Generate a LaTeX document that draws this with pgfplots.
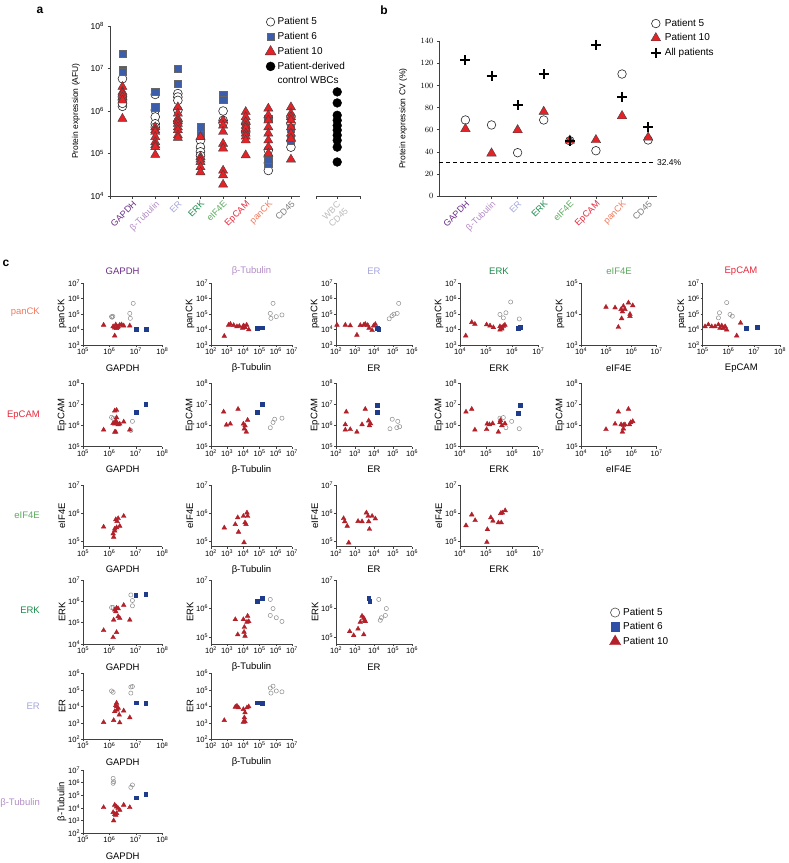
\documentclass[border=0pt]{standalone}
\usepackage{fontspec}
\setmainfont{Liberation Sans}
\usepackage{pgfplots}
\usepackage{pgfplotstable}
\pgfplotsset{compat=1.18}

\definecolor{p6}{HTML}{3C5DAA}
\definecolor{p10}{HTML}{E52228}
\definecolor{c6}{HTML}{1F3C8C}
\definecolor{c6l}{HTML}{3050A8}
\definecolor{c10}{HTML}{B2202A}
\definecolor{cgray}{HTML}{8C8C8C}
\definecolor{kGAPDH}{HTML}{6B2C87}
\definecolor{kTub}{HTML}{B38CC5}
\definecolor{kER}{HTML}{A3A6DA}
\definecolor{kERK}{HTML}{1C8A4B}
\definecolor{kEIF}{HTML}{5BAA5E}
\definecolor{kEp}{HTML}{E5283B}
\definecolor{kpan}{HTML}{F27A5E}
\definecolor{kCD}{HTML}{7D7D7D}
\definecolor{kWBC}{HTML}{BBBBBB}

\newcommand{\tp}[1]{10\textsuperscript{#1}}

% ---------------- panel a (x = category index, y = log10 of AFU) ----------------
\pgfplotstableread{
x y g
0.55 6.76 c
0.55 6.33 c
0.55 6.25 c
0.55 6.11 c
0.55 6.18 c
2 6.39 c
2 6.02 c
2 5.86 c
2 5.70 c
2 5.62 c
3 6.41 c
3 6.33 c
3 6.25 c
3 6.02 c
3 5.75 c
4 5.31 c
4 5.15 c
4 5.04 c
4 4.95 c
5 6.00 c
5 5.78 c
5 5.72 c
6 5.70 c
6 5.50 c
7 5.08 c
7 4.92 c
7 4.78 c
7 4.60 c
8 5.86 c
8 5.70 c
8 5.30 c
8 5.15 c
0.55 7.35 s
0.55 6.97 s
0.55 6.93 s
2 6.46 s
2 6.09 s
3 7.00 s
3 6.64 s
4 5.62 s
4 5.43 s
5 6.37 s
5 6.27 s
6 5.60 s
7 5.82 s
7 4.76 s
7 4.85 s
8 5.31 s
8 5.60 s
0.55 6.57 t
0.55 6.45 t
0.55 6.41 t
0.55 6.33 t
0.55 6.25 t
0.55 5.82 t
2 5.62 t
2 5.55 t
2 5.51 t
2 5.39 t
2 5.27 t
2 5.20 t
2 5.15 t
2 4.97 t
3 6.09 t
3 5.94 t
3 5.82 t
3 5.76 t
3 5.70 t
3 5.62 t
3 5.55 t
3 5.43 t
3 5.37 t
4 5.39 t
4 4.92 t
4 4.86 t
4 4.80 t
4 4.68 t
4 4.56 t
5 5.78 t
5 5.66 t
5 5.51 t
5 5.23 t
5 5.12 t
5 4.60 t
5 4.49 t
5 4.27 t
6 5.98 t
6 5.86 t
6 5.74 t
6 5.65 t
6 5.59 t
6 5.47 t
6 5.40 t
6 5.31 t
6 4.96 t
7 6.06 t
7 5.90 t
7 5.78 t
7 5.62 t
7 5.47 t
7 5.31 t
7 5.15 t
7 5.00 t
8 6.09 t
8 5.94 t
8 5.86 t
8 5.78 t
8 5.62 t
8 5.47 t
8 5.35 t
8 4.86 t
}\pA
\pgfplotstableread{
x y g
10.2 6.45 w
10.2 6.19 w
10.2 5.90 w
10.2 5.78 w
10.2 5.66 w
10.2 5.55 w
10.2 5.43 w
10.2 5.31 w
10.2 5.15 w
10.2 4.80 w
}\pAw

% ---------------- panel c (log10 values) ----------------
\pgfplotstableread{
x y g
6.08 4.84 c
6.13 4.86 c
6.10 4.80 c
6.77 5.05 c
6.79 4.73 c
6.90 5.70 c
7.00 4.00 s
7.38 4.05 s
5.78 4.30 t
6.20 3.60 t
6.14 4.20 t
6.24 4.32 t
6.33 4.20 t
6.39 4.30 t
6.27 4.08 t
6.46 4.32 t
6.54 4.25 t
6.77 4.25 t
6.20 4.12 t
6.30 4.15 t
}\rAcA
\pgfplotstableread{
x y g
5.83 5.70 c
5.66 5.05 c
5.70 4.73 c
6.03 4.84 c
6.38 4.95 c
4.84 4.08 s
5.15 4.12 s
2.82 3.58 t
3.09 4.30 t
3.20 4.36 t
3.40 4.28 t
3.60 4.20 t
3.75 4.22 t
4.00 4.25 t
4.10 4.14 t
4.20 4.30 t
4.33 4.00 t
3.95 4.10 t
4.05 4.20 t
}\rAcB
\pgfplotstableread{
x y g
4.80 4.70 c
4.95 4.90 c
5.05 5.00 c
5.22 5.05 c
5.30 5.70 c
4.16 4.08 s
4.25 4.02 s
2.05 4.30 t
2.49 4.30 t
2.75 4.26 t
3.10 3.65 t
3.28 4.28 t
3.46 4.30 t
3.54 4.36 t
3.67 4.28 t
3.74 4.10 t
3.90 3.95 t
3.98 4.25 t
4.07 4.35 t
}\rAcC
\pgfplotstableread{
x y g
5.53 4.98 c
5.66 4.76 c
5.76 5.09 c
5.94 5.79 c
6.27 4.69 c
6.23 4.10 s
6.32 4.14 s
4.22 3.60 t
4.45 4.47 t
4.57 4.36 t
5.02 4.32 t
5.15 4.25 t
5.28 4.14 t
5.53 4.20 t
5.60 4.05 t
5.66 4.22 t
5.72 4.30 t
5.53 3.98 t
5.60 4.12 t
}\rAcD
\pgfplotstableread{
x y g
4.99 4.23 t
5.35 4.21 t
5.48 3.58 t
5.59 4.16 t
5.61 3.86 t
5.68 4.26 t
5.74 4.16 t
5.88 4.37 t
5.94 4.00 t
5.94 3.93 t
6.05 4.28 t
5.64 4.08 t
}\rAcE
\pgfplotstableread{
x y g
5.61 4.76 c
5.65 5.09 c
5.93 5.75 c
6.06 4.98 c
6.15 4.87 c
6.68 4.10 s
7.10 4.14 s
5.09 4.20 t
5.22 4.32 t
5.35 4.20 t
5.48 4.20 t
5.61 4.32 t
5.67 4.10 t
5.87 4.20 t
5.93 3.99 t
6.32 3.60 t
6.47 4.43 t
5.74 4.25 t
5.80 4.08 t
}\rAcF
\pgfplotstableread{
x y g
6.08 6.39 c
6.14 6.34 c
6.81 5.77 c
6.87 6.20 c
7.00 6.65 s
7.37 7.00 s
5.78 5.80 t
6.20 5.69 t
6.20 6.08 t
6.27 6.15 t
6.33 6.05 t
6.14 6.11 t
6.24 6.22 t
6.27 6.38 t
6.39 6.08 t
6.54 6.18 t
6.77 5.80 t
6.24 5.70 t
6.27 6.73 t
6.20 6.70 t
}\rBcA
\pgfplotstableread{
x y g
5.66 5.90 c
5.83 6.15 c
5.93 6.30 c
6.38 6.35 c
4.84 6.65 s
5.15 7.00 s
2.78 6.65 t
3.67 6.78 t
2.95 6.03 t
3.19 6.08 t
4.00 6.08 t
4.06 5.85 t
4.18 5.70 t
4.26 6.26 t
4.10 6.00 t
}\rBcB
\pgfplotstableread{
x y g
4.84 5.85 c
4.96 6.30 c
5.20 5.90 c
5.25 6.20 c
5.35 5.95 c
4.16 6.95 s
4.16 6.65 s
2.54 6.65 t
3.54 6.78 t
2.49 6.05 t
2.49 5.80 t
2.75 5.82 t
3.10 5.70 t
3.37 6.05 t
3.72 6.23 t
3.81 6.10 t
3.76 6.00 t
}\rBcC
\pgfplotstableread{
x y g
5.53 6.35 c
5.66 6.38 c
5.76 5.90 c
5.98 6.20 c
6.27 5.85 c
6.23 6.60 s
6.30 6.95 s
4.23 6.65 t
4.45 6.78 t
4.57 5.80 t
5.04 6.08 t
5.13 6.05 t
5.25 6.10 t
5.02 5.82 t
5.47 5.70 t
5.53 6.15 t
5.60 6.00 t
5.72 6.10 t
5.55 6.25 t
}\rBcD
\pgfplotstableread{
x y g
5.48 6.65 t
5.88 6.78 t
4.99 5.82 t
5.35 6.08 t
5.59 6.05 t
5.64 5.70 t
5.68 5.85 t
5.74 6.05 t
5.92 6.05 t
5.97 6.15 t
6.05 6.20 t
5.68 6.02 t
}\rBcE
\pgfplotstableread{
x y g
5.78 5.52 t
6.14 5.28 t
6.16 5.16 t
6.20 5.45 t
6.24 5.78 t
6.29 5.72 t
6.33 5.82 t
6.27 5.50 t
6.39 5.55 t
6.54 5.90 t
6.20 5.38 t
}\rCcA
\pgfplotstableread{
x y g
2.82 5.49 t
3.50 5.61 t
3.65 5.85 t
3.70 5.34 t
4.00 5.90 t
4.04 4.97 t
4.10 5.67 t
4.22 6.02 t
4.26 5.90 t
4.16 5.61 t
}\rCcB
\pgfplotstableread{
x y g
2.40 5.82 t
2.46 5.71 t
2.59 5.55 t
2.67 4.96 t
3.16 5.72 t
3.37 5.71 t
3.60 6.02 t
3.69 5.90 t
3.72 5.71 t
3.76 5.44 t
3.90 5.90 t
4.07 5.81 t
}\rCcC
\pgfplotstableread{
x y g
4.23 5.57 t
4.45 5.95 t
4.58 5.75 t
5.05 5.43 t
5.03 4.98 t
5.18 5.85 t
5.26 5.73 t
5.47 5.67 t
5.58 5.67 t
5.56 6.00 t
5.73 6.10 t
5.62 6.02 t
}\rCcD
\pgfplotstableread{
x y g
6.08 5.71 c
6.14 5.71 c
6.81 6.30 c
6.87 6.04 c
6.87 5.79 c
6.99 6.27 s
7.37 6.35 s
5.78 4.64 t
6.14 4.31 t
6.27 4.55 t
6.16 5.13 t
6.20 5.60 t
6.27 5.69 t
6.33 5.66 t
6.33 5.29 t
6.39 5.21 t
6.54 5.82 t
6.77 5.13 t
6.24 5.52 t
}\rDcA
\pgfplotstableread{
x y g
5.66 6.32 c
5.83 6.00 c
5.66 5.76 c
6.03 5.68 c
6.38 5.55 c
4.84 6.27 s
5.15 6.35 s
3.50 5.62 t
3.65 5.09 t
4.00 5.62 t
4.04 5.18 t
4.06 5.35 t
4.10 5.04 t
4.26 5.74 t
4.33 5.55 t
4.22 5.53 t
}\rDcB
\pgfplotstableread{
x y g
4.25 6.32 c
4.33 5.59 c
4.39 5.68 c
4.60 5.76 c
4.65 6.00 c
3.72 6.35 s
3.77 6.27 s
2.72 5.20 t
2.93 5.06 t
3.16 5.29 t
3.28 5.53 t
3.37 5.74 t
3.46 5.67 t
3.51 5.59 t
3.54 5.55 t
3.46 5.09 t
}\rDcC
\pgfplotstableread{
x y g
6.08 4.93 c
6.14 4.85 c
6.81 5.17 c
6.87 5.20 c
6.81 4.80 c
7.00 4.22 s
7.37 4.18 s
5.78 3.03 t
6.16 3.15 t
6.27 3.98 t
6.33 3.90 t
6.24 4.06 t
6.29 3.78 t
6.20 3.69 t
6.37 3.48 t
6.39 3.01 t
6.54 3.73 t
6.77 3.32 t
6.27 4.20 t
}\rEcA
\pgfplotstableread{
x y g
5.66 5.11 c
5.83 5.22 c
5.70 4.80 c
6.03 4.93 c
6.38 4.88 c
4.84 4.22 s
5.15 4.18 s
2.82 3.15 t
3.50 3.96 t
3.60 4.02 t
3.70 3.92 t
4.00 3.82 t
4.10 3.62 t
4.06 3.32 t
4.00 3.05 t
4.10 3.08 t
4.22 3.92 t
4.33 3.98 t
}\rEcB
\pgfplotstableread{
x y g
6.14 6.34 c
6.16 6.08 c
6.14 5.95 c
6.81 5.63 c
6.87 5.82 c
7.00 4.82 s
7.37 5.08 s
5.78 4.05 t
6.14 3.66 t
6.20 4.24 t
6.27 4.10 t
6.33 3.97 t
6.16 3.00 t
6.20 3.50 t
6.27 3.58 t
6.39 3.84 t
6.54 4.24 t
6.77 4.05 t
6.24 3.45 t
}\rFcA

\pgfplotsset{
  every axis/.append style={
    scale only axis, anchor=south west, clip=false,
    axis x line*=bottom, axis y line*=left,
    axis line style={-, black!75, line width=0.5pt},
    tick style={black!75, line width=0.5pt},
    tick align=outside, major tick length=2pt,
    xminorticks=false, yminorticks=false,
  },
  mylegimg/.style={legend image code/.code={\path[draw=none, fill=none] (-#1,-5pt) rectangle (#1,5pt); \draw[##1] plot coordinates {(0pt,0pt)};}},
  apts/.style={scatter, only marks, scatter src=explicit symbolic,
    scatter/classes={
      c={mark=*, draw=black!85, fill=white, mark size=4.4pt, line width=0.6pt},
      s={mark=square*, draw=black!60, fill=p6, mark size=3.7pt, line width=0.4pt},
      t={mark=triangle*, draw=black!75, fill=p10, mark size=5.3pt, line width=0.4pt},
      w={mark=*, draw=black, fill=black, mark size=4.4pt}}},
  cpts/.style={scatter, only marks, scatter src=explicit symbolic,
    scatter/classes={
      c={mark=o, draw=cgray, mark size=2.1pt, line width=0.5pt},
      s={mark=square*, draw=c6, fill=c6, mark size=1.9pt},
      t={mark=triangle*, draw=c10, fill=c10, mark size=2.7pt}}},
  smstyle/.style={
    tick label style={font=\fontsize{7.6}{8}\selectfont, inner sep=0.8pt},
    every axis x label/.style={at={(axis description cs:0.5,0)}, yshift=-23pt, anchor=center, font=\fontsize{9.5}{10}\selectfont},
    every axis y label/.style={at={(axis description cs:0,0.5)}, xshift=-21pt, rotate=90, anchor=center, font=\fontsize{9.5}{10}\selectfont}},
  xG/.style={xlabel={GAPDH}, xmin=1e5, xmax=1e8, xtick={1e5,1e6,1e7,1e8}, xticklabels={\tp{5},\tp{6},\tp{7},\tp{8}}},
  xT/.style={xlabel={β-Tubulin}, xmin=1e2, xmax=1e7, xtick={1e2,1e3,1e4,1e5,1e6,1e7}, xticklabels={\tp{2},\tp{3},\tp{4},\tp{5},\tp{6},\tp{7}}},
  xR/.style={xlabel={ER}, xmin=1e2, xmax=1e6, xtick={1e2,1e3,1e4,1e5,1e6}, xticklabels={\tp{2},\tp{3},\tp{4},\tp{5},\tp{6}}},
  xK/.style={xlabel={ERK}, xmin=1e4, xmax=1e7, xtick={1e4,1e5,1e6,1e7}, xticklabels={\tp{4},\tp{5},\tp{6},\tp{7}}},
  xF/.style={xlabel={eIF4E}, xmin=1e4, xmax=1e7, xtick={1e4,1e5,1e6,1e7}, xticklabels={\tp{4},\tp{5},\tp{6},\tp{7}}},
  xE/.style={xlabel={EpCAM}, xmin=1e5, xmax=1e8, xtick={1e5,1e6,1e7,1e8}, xticklabels={\tp{5},\tp{6},\tp{7},\tp{8}}},
  yP/.style={ylabel={panCK}, ymin=1e3, ymax=1e7, ytick={1e3,1e4,1e5,1e6,1e7}, yticklabels={\tp{3},\tp{4},\tp{5},\tp{6},\tp{7}}},
  yPs/.style={ylabel={panCK}, ymin=1e3, ymax=1e5, ytick={1e3,1e4,1e5}, yticklabels={\tp{3},\tp{4},\tp{5}}},
  yE/.style={ylabel={EpCAM}, ymin=1e5, ymax=1e8, ytick={1e5,1e6,1e7,1e8}, yticklabels={\tp{5},\tp{6},\tp{7},\tp{8}}},
  yF/.style={ylabel={eIF4E}, ymin=6.6e4, ymax=1e7, ytick={1e5,1e6,1e7}, yticklabels={\tp{5},\tp{6},\tp{7}}},
  yK/.style={ylabel={ERK}, ymin=1e4, ymax=1e7, ytick={1e4,1e5,1e6,1e7}, yticklabels={\tp{4},\tp{5},\tp{6},\tp{7}}},
  yKs/.style={ylabel={ERK}, ymin=5.75e4, ymax=1e7, ytick={1e5,1e6,1e7}, yticklabels={\tp{5},\tp{6},\tp{7}}},
  yR/.style={ylabel={ER}, ymin=1e2, ymax=1e6, ytick={1e2,1e3,1e4,1e5,1e6}, yticklabels={\tp{2},\tp{3},\tp{4},\tp{5},\tp{6}}},
  yT/.style={ylabel={β-Tubulin}, ymin=1e2, ymax=1e7, ytick={1e2,1e3,1e4,1e5,1e6,1e7}, yticklabels={\tp{2},\tp{3},\tp{4},\tp{5},\tp{6},\tp{7}}},
  table/lgx/.style={x expr=10^\thisrow{x}, y expr=10^\thisrow{y}, meta=g},
  table/lgy/.style={x=x, y expr=10^\thisrow{y}, meta=g},
}

\begin{document}
\begin{tikzpicture}
\useasboundingbox (0pt,0pt) rectangle (788pt,-863pt);

% ================= panel a =================
\begin{axis}[
  at={(110pt,-196pt)}, width=190pt, height=170pt,
  ymode=log, ymin=1e4, ymax=1e8, xmin=0, xmax=8.4,
  ytick={1e4,1e5,1e6,1e7,1e8}, yticklabels={\tp{4},\tp{5},\tp{6},\tp{7},\tp{8}},
  yticklabel style={font=\fontsize{8.5}{9}\selectfont},
  xtick={0,1,2,3,4,5,6,7,8},
  xticklabels={,\textcolor{kGAPDH}{GAPDH},\textcolor{kTub}{β-Tubulin},\textcolor{kER}{ER},\textcolor{kERK}{ERK},\textcolor{kEIF}{eIF4E},\textcolor{kEp}{EpCAM},\textcolor{kpan}{panCK},\textcolor{kCD}{CD45}},
  xticklabel style={rotate=45, anchor=north east, font=\fontsize{9}{10}\selectfont, inner sep=1pt},
  major tick length=2.5pt,
  ylabel={Protein expression (AFU)},
  every axis y label/.style={at={(axis description cs:0,0.5)}, xshift=-34pt, rotate=90, anchor=center, font=\fontsize{8.5}{10}\selectfont},
  mylegimg=6pt,
  legend cell align=left,
  legend style={draw=none, fill=none, at={(axis description cs:0.8126,1.0594)}, anchor=north west,
    font=\fontsize{10}{11}\selectfont, inner sep=0pt, row sep=3pt,
    nodes={inner sep=1pt, text height=7.5pt, text depth=2.2pt}},
]
\addplot[apts, forget plot] table[lgy] {\pA};
\addlegendimage{only marks, mark=*, draw=black!85, fill=white, mark size=4.2pt, line width=0.6pt}
\addlegendentry{Patient 5}
\addlegendimage{only marks, mark=square*, draw=black!60, fill=p6, mark size=3.7pt, line width=0.4pt}
\addlegendentry{Patient 6}
\addlegendimage{only marks, mark=triangle*, draw=black!75, fill=p10, mark size=6.2pt, line width=0.4pt}
\addlegendentry{Patient 10}
\addlegendimage{only marks, mark=*, draw=black, fill=black, mark size=4.5pt}
\addlegendentry{Patient-derived}
\addlegendimage{empty legend}
\addlegendentry{control WBCs}
\end{axis}

\begin{axis}[
  at={(316.7pt,-196pt)}, width=43.3pt, height=170pt,
  ymode=log, ymin=1e4, ymax=1e8, xmin=9.3, xmax=11.2,
  axis y line=none,
  xtick={9.3,10.2,11.2}, xticklabels={,{WBC\\CD45},},
  xticklabel style={rotate=45, anchor=north east, align=center, text=kWBC, font=\fontsize{9}{10}\selectfont, inner sep=1pt},
  major tick length=2.5pt,
]
\addplot[apts] table[lgy] {\pAw};
\end{axis}

% ================= panel b =================
\begin{axis}[
  at={(439.3pt,-196pt)}, width=217.7pt, height=154.7pt,
  ymin=0, ymax=140, xmin=0, xmax=8.34,
  ytick={0,20,40,60,80,100,120,140},
  yticklabel style={font=\fontsize{8.5}{9}\selectfont},
  xtick={1,2,3,4,5,6,7,8},
  xticklabels={\textcolor{kGAPDH}{GAPDH},\textcolor{kTub}{β-Tubulin},\textcolor{kER}{ER},\textcolor{kERK}{ERK},\textcolor{kEIF}{eIF4E},\textcolor{kEp}{EpCAM},\textcolor{kpan}{panCK},\textcolor{kCD}{CD45}},
  xticklabel style={rotate=45, anchor=north east, font=\fontsize{9}{10}\selectfont, inner sep=1pt},
  major tick length=2.5pt,
  ylabel={Protein expression CV (\%)},
  every axis y label/.style={at={(axis description cs:0,0.5)}, xshift=-36pt, rotate=90, anchor=center, font=\fontsize{8.5}{10}\selectfont},
  mylegimg=8pt,
  legend cell align=left,
  legend style={draw=none, fill=none, at={(axis description cs:0.957,1.154)}, anchor=north west,
    font=\fontsize{10}{11}\selectfont, inner sep=0pt, row sep=2.8pt,
    nodes={inner sep=1pt, text height=7.5pt, text depth=2.2pt}},
]
\addplot[black, dashed, line width=0.8pt, dash pattern=on 4pt off 3pt, forget plot] coordinates {(0,30.2) (8.2,30.2)};
\node[anchor=west, font=\fontsize{8.5}{10}\selectfont, inner sep=1pt] at (axis cs:8.3,30.2) {32.4\%};
\addplot[only marks, mark=*, draw=black!85, fill=white, mark size=4.3pt, line width=0.6pt] coordinates {
(1,68.8) (2,64.3) (3,39.2) (4,68.8) (5,50.0) (6,41.0) (7,110.4) (8,50.7)};
\addlegendentry{Patient 5}
\addplot[only marks, mark=triangle*, draw=black!75, fill=p10, mark size=5.5pt, line width=0.4pt] coordinates {
(1,60.7) (2,38.6) (3,59.7) (4,76.3) (5,50.3) (6,50.7) (7,72.4) (8,53.0)};
\addlegendentry{Patient 10}
\addplot[only marks, mark=+, black, mark size=5pt, line width=2pt] coordinates {
(1,123) (2,109) (3,82) (4,110) (5,50) (6,137) (7,90) (8,62)};
\addlegendentry{All patients}
\end{axis}

% ================= panel c =================
% row 1: panCK
\begin{axis}[xmode=log, ymode=log, at={(83pt,-345pt)}, width=79.3pt, height=61.7pt, smstyle, xG, yP]
\addplot[cpts] table[lgx] {\rAcA};
\end{axis}
\begin{axis}[xmode=log, ymode=log, at={(211pt,-345pt)}, width=81pt, height=61.7pt, smstyle, xT, yP]
\addplot[cpts] table[lgx] {\rAcB};
\end{axis}
\begin{axis}[xmode=log, ymode=log, at={(336pt,-345pt)}, width=76pt, height=61.7pt, smstyle, xR, yP]
\addplot[cpts] table[lgx] {\rAcC};
\end{axis}
\begin{axis}[xmode=log, ymode=log, at={(460pt,-345pt)}, width=78.3pt, height=61.7pt, smstyle, xK, yP]
\addplot[cpts] table[lgx] {\rAcD};
\end{axis}
\begin{axis}[xmode=log, ymode=log, at={(581pt,-345pt)}, width=75.7pt, height=61.7pt, smstyle, xF, yPs]
\addplot[cpts] table[lgx] {\rAcE};
\end{axis}
\begin{axis}[xmode=log, ymode=log, at={(702.7pt,-345pt)}, width=77.3pt, height=61.7pt, smstyle, xE, yP]
\addplot[cpts] table[lgx] {\rAcF};
\end{axis}
% row 2: EpCAM
\begin{axis}[xmode=log, ymode=log, at={(83pt,-446.7pt)}, width=79.3pt, height=63.4pt, smstyle, xG, yE]
\addplot[cpts] table[lgx] {\rBcA};
\end{axis}
\begin{axis}[xmode=log, ymode=log, at={(211pt,-446.7pt)}, width=81pt, height=63.4pt, smstyle, xT, yE]
\addplot[cpts] table[lgx] {\rBcB};
\end{axis}
\begin{axis}[xmode=log, ymode=log, at={(336pt,-446.7pt)}, width=76pt, height=63.4pt, smstyle, xR, yE]
\addplot[cpts] table[lgx] {\rBcC};
\end{axis}
\begin{axis}[xmode=log, ymode=log, at={(460pt,-446.7pt)}, width=78.3pt, height=63.4pt, smstyle, xK, yE]
\addplot[cpts] table[lgx] {\rBcD};
\end{axis}
\begin{axis}[xmode=log, ymode=log, at={(581pt,-446.7pt)}, width=75.7pt, height=63.4pt, smstyle, xF, yE]
\addplot[cpts] table[lgx] {\rBcE};
\end{axis}
% row 3: eIF4E
\begin{axis}[xmode=log, ymode=log, at={(83pt,-546.7pt)}, width=79.3pt, height=61.7pt, smstyle, xG, yF]
\addplot[cpts] table[lgx] {\rCcA};
\end{axis}
\begin{axis}[xmode=log, ymode=log, at={(211pt,-546.7pt)}, width=81pt, height=61.7pt, smstyle, xT, yF]
\addplot[cpts] table[lgx] {\rCcB};
\end{axis}
\begin{axis}[xmode=log, ymode=log, at={(336pt,-546.7pt)}, width=76pt, height=61.7pt, smstyle, xR, yF]
\addplot[cpts] table[lgx] {\rCcC};
\end{axis}
\begin{axis}[xmode=log, ymode=log, at={(460pt,-546.7pt)}, width=78.3pt, height=61.7pt, smstyle, xK, yF]
\addplot[cpts] table[lgx] {\rCcD};
\end{axis}
% row 4: ERK
\begin{axis}[xmode=log, ymode=log, at={(83pt,-644pt)}, width=79.3pt, height=64pt, smstyle, xG, yK]
\addplot[cpts] table[lgx] {\rDcA};
\end{axis}
\begin{axis}[xmode=log, ymode=log, at={(211pt,-644pt)}, width=81pt, height=64pt, smstyle, xT, yKs]
\addplot[cpts] table[lgx] {\rDcB};
\end{axis}
\begin{axis}[xmode=log, ymode=log, at={(336pt,-644pt)}, width=76pt, height=64pt, smstyle, xR, yKs,
  mylegimg=7pt,
  legend cell align=left,
  legend style={draw=none, fill=none, at={(axis description cs:3.578,0.586)}, anchor=north west,
    font=\fontsize{10}{11}\selectfont, inner sep=0pt, row sep=2.5pt,
    nodes={inner sep=1pt, text height=7.5pt, text depth=2.2pt}}]
\addplot[cpts, forget plot] table[lgx] {\rDcC};
\addlegendimage{only marks, mark=o, draw=black!70, mark size=4.6pt, line width=0.6pt}
\addlegendentry{Patient 5}
\addlegendimage{only marks, mark=square*, draw=c6l, fill=c6l, mark size=4.2pt}
\addlegendentry{Patient 6}
\addlegendimage{only marks, mark=triangle*, draw=c10, fill=c10, mark size=6.4pt}
\addlegendentry{Patient 10}
\end{axis}
% row 5: ER
\begin{axis}[xmode=log, ymode=log, at={(83pt,-739.3pt)}, width=79.3pt, height=66pt, smstyle, xG, yR]
\addplot[cpts] table[lgx] {\rEcA};
\end{axis}
\begin{axis}[xmode=log, ymode=log, at={(211pt,-739.3pt)}, width=81pt, height=66pt, smstyle, xT, yR]
\addplot[cpts] table[lgx] {\rEcB};
\end{axis}
% row 6: beta-Tubulin
\begin{axis}[xmode=log, ymode=log, at={(83pt,-833.3pt)}, width=79.3pt, height=63.3pt, smstyle, xG, yT]
\addplot[cpts] table[lgx] {\rFcA};
\end{axis}

% column titles
\begin{scope}[every node/.style={font=\fontsize{9.5}{11}\selectfont, inner sep=0pt}]
\node[text=kGAPDH] at (122.6pt,-271pt) {GAPDH};
\node[text=kTub] at (251.5pt,-271pt) {β-Tubulin};
\node[text=kER] at (374pt,-271pt) {ER};
\node[text=kERK] at (499pt,-271pt) {ERK};
\node[text=kEIF] at (619pt,-271pt) {eIF4E};
\node[text=kEp] at (741pt,-271pt) {EpCAM};
% row labels
\node[text=kpan, anchor=east] at (40pt,-311.7pt) {panCK};
\node[text=kEp, anchor=east] at (40pt,-415pt) {EpCAM};
\node[text=kEIF, anchor=east] at (40pt,-515.7pt) {eIF4E};
\node[text=kERK, anchor=east] at (40pt,-610pt) {ERK};
\node[text=kER, anchor=east] at (40pt,-706pt) {ER};
\node[text=kTub, anchor=east] at (40pt,-802.7pt) {β-Tubulin};
\end{scope}

% panel letters
\node[font=\bfseries\fontsize{12}{14}\selectfont, inner sep=0pt] at (40pt,-10pt) {a};
\node[font=\bfseries\fontsize{12}{14}\selectfont, inner sep=0pt] at (384pt,-10pt) {b};
\node[font=\bfseries\fontsize{12}{14}\selectfont, inner sep=0pt] at (6pt,-263pt) {c};
\end{tikzpicture}
\end{document}
